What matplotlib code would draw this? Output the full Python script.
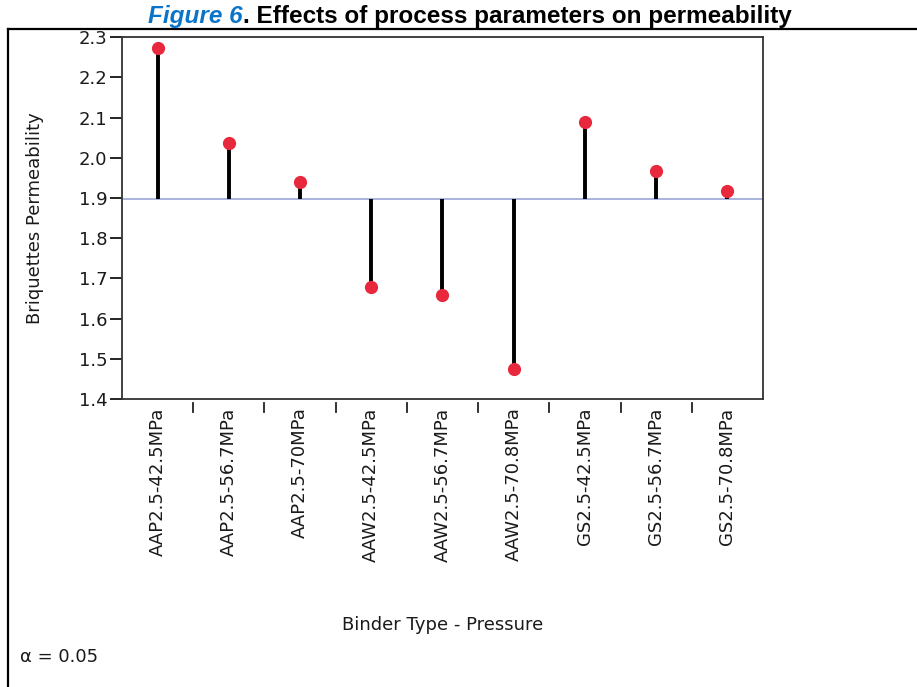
import matplotlib; matplotlib.use("Agg")
import matplotlib.pyplot as plt
import matplotlib.transforms as mtransforms
from matplotlib.lines import Line2D

labels = ["AAP2.5-42.5MPa", "AAP2.5-56.7MPa", "AAP2.5-70MPa",
          "AAW2.5-42.5MPa", "AAW2.5-56.7MPa", "AAW2.5-70.8MPa",
          "GS2.5-42.5MPa", "GS2.5-56.7MPa", "GS2.5-70.8MPa"]
values = [2.272, 2.036, 1.940, 1.680, 1.660, 1.476, 2.090, 1.966, 1.918]
avg = 1.898
yticks = [1.4, 1.5, 1.6, 1.7, 1.8, 1.9, 2.0, 2.1, 2.2, 2.3]

plt.rcParams["font.family"] = ["DejaVu Sans"]
FS = 13

fig = plt.figure(figsize=(9.17, 6.87), dpi=100)
ax = fig.add_axes([0.133, 0.419, 0.699, 0.527])
x = list(range(len(labels)))

ax.axhline(avg, color="#a8b2dc", lw=1.4, zorder=1)
ax.vlines(x, avg, values, color="black", lw=2.8, zorder=2)
ax.plot(x, values, "o", color="#e8283c", ms=9.5, mec="none", zorder=3)

ax.set_xlim(-0.5, len(labels) - 0.5)
ax.set_ylim(1.4, 2.3)
ax.set_yticks(yticks)
ax.set_yticklabels([f"{v:.1f}" for v in yticks], fontsize=FS, color="#1a1a1a")
ax.tick_params(axis="y", length=9, width=1.2, pad=1.5)
ax.set_xticks(x)
ax.set_xticklabels(labels, rotation=90, fontsize=FS, color="#1a1a1a", va="top")
ax.tick_params(axis="x", length=0, pad=6)
for s in ax.spines.values():
    s.set_color("#333")
    s.set_linewidth(1.3)

# boundary tick marks, detached from the axis
trans = mtransforms.blended_transform_factory(ax.transData, ax.transAxes)
for b in x[:-1]:
    ax.add_line(Line2D([b + 0.5, b + 0.5], [-0.012, -0.036], transform=trans,
                       color="#222", lw=1.3, clip_on=False))

ax.text(1.005, avg, "Avg = 1.898", transform=trans, fontsize=FS, va="center",
        ha="left", color="#1a1a1a")
ax.set_ylabel("Briquettes Permeability", fontsize=FS, color="#1a1a1a")
ax.yaxis.set_label_coords(-0.122, 0.5)
fig.text(0.483, 1 - 625 / 687, "Binder Type - Pressure", fontsize=FS,
         ha="center", va="center", color="#1a1a1a")
fig.text(20 / 917, 1 - 657 / 687, "\u03b1 = 0.05", fontsize=FS,
         ha="left", va="center", color="#1a1a1a")

# outer frame (top and left edges)
top = 1 - 29 / 687
fig.add_artist(Line2D([8 / 917, 1], [top, top], transform=fig.transFigure,
                      color="black", lw=1.6))
fig.add_artist(Line2D([8 / 917] * 2, [0, top], transform=fig.transFigure,
                      color="black", lw=1.6))

# title: blue italic figure number followed by bold black caption
ty = 1 - 23 / 687
t1 = fig.text(148 / 917, ty, "Figure 6", fontsize=17.5, fontweight="bold",
              style="italic", color="#0a74c8", family="Liberation Sans",
              ha="left", va="baseline")
fig.canvas.draw()
x_end = t1.get_window_extent().x1 / fig.bbox.width
fig.text(x_end, ty, ". Effects of process parameters on permeability",
         fontsize=17.5, fontweight="bold", color="black",
         family="Liberation Sans", ha="left", va="baseline")

fig.savefig("out.png", dpi=100)
